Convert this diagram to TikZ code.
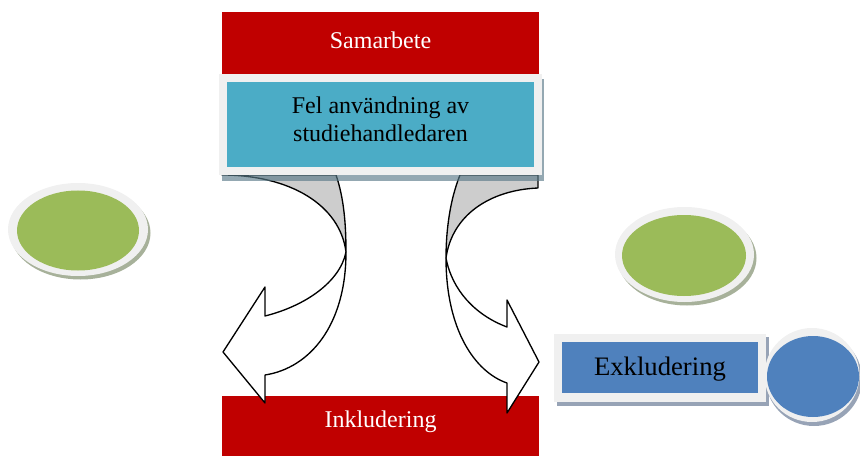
\documentclass[tikz,border=0pt]{standalone}
\usepackage{fontspec}
\setmainfont{Liberation Serif}
\definecolor{boxred}{HTML}{C00000}
\definecolor{boxteal}{HTML}{4BACC6}
\definecolor{boxblue}{HTML}{4F81BD}
\definecolor{ovalgreen}{HTML}{9BBB59}
\definecolor{rimgray}{HTML}{F0F0F0}
\definecolor{tealshade}{HTML}{5A7A88}
\definecolor{blueshade}{HTML}{97A3B6}
\definecolor{greenshade}{HTML}{A7B19A}
\definecolor{backgray}{HTML}{CDCDCD}
\begin{document}
\begin{tikzpicture}[x=0.75pt,y=-0.75pt,
  redtext/.style={text=white,font=\fontsize{18}{21}\selectfont},
  darktext/.style={text=black,font=\fontsize{18}{21}\selectfont,align=center},
  arrowline/.style={draw=black,line width=1pt,line join=round}]
\useasboundingbox (0,0) rectangle (860,456);

% bottom bar
\fill[boxred] (222,396) rectangle (539,456);
\node[redtext] (inkl) at (380.5,422) {Inkludering};

% left curved arrow: back face, then front body
\path[arrowline,fill=backgray]
  (222,175) .. controls (290,175) and (340,205) .. (346,252)
  .. controls (346,225) and (344,198) .. (336,175) -- cycle;
\path[arrowline,fill=white]
  (346,252) .. controls (346,325) and (310,368) .. (265,375)
  -- (265,403) -- (223,352) -- (265,287) -- (265,316)
  .. controls (305,306) and (340,282) .. (346,252) -- cycle;

% right curved arrow: back face, then front body
\path[arrowline,fill=backgray]
  (460,175) .. controls (450,200) and (446,230) .. (446,258)
  .. controls (452,215) and (490,190) .. (538,188) -- (538,175) -- cycle;
\path[arrowline,fill=white]
  (446,258) .. controls (446,330) and (475,372) .. (507,383)
  -- (507,413) -- (539,362) -- (507,300) -- (507,327)
  .. controls (475,315) and (452,290) .. (446,258) -- cycle;

% top bar
\fill[boxred] (222,12) rectangle (539,74);
\node[redtext] (samarb) at (380.5,40) {Samarbete};

% framed teal box with a see-through shadow
\fill[tealshade,fill opacity=0.65] (222,79) rectangle (544,181);
\fill[rimgray] (219,74) rectangle (542,175);
\fill[boxteal] (227,82) rectangle (534,167);
\node[darktext] (fel) at (380.5,119) {Fel användning av\\studiehandledaren};

% left green oval
\fill[greenshade] (80.5,233) ellipse [x radius=70,y radius=46.5];
\fill[rimgray] (78,229.5) ellipse [x radius=70,y radius=46.5];
\fill[ovalgreen] (78,230.5) ellipse [x radius=61,y radius=40];
\coordinate (ovalL) at (78,230.5);

% right green oval
\fill[greenshade] (687,258) ellipse [x radius=69.5,y radius=47.5];
\fill[rimgray] (684.5,254.5) ellipse [x radius=69.5,y radius=47.5];
\fill[ovalgreen] (684,255.5) ellipse [x radius=62,y radius=40.5];
\coordinate (ovalR) at (684,255.5);

% framed blue box
\fill[blueshade] (557,337) rectangle (769,406);
\fill[rimgray] (554,334) rectangle (766,402);
\fill[boxblue] (562,342) rectangle (758,393);
\node[text=black,font=\fontsize{20}{24}\selectfont] (exkl) at (660,369.5) {Exkludering};

% blue disc
\fill[blueshade] (814,379) ellipse [x radius=48,y radius=47];
\fill[rimgray] (812,375) ellipse [x radius=47.5,y radius=47];
\fill[boxblue] (813,376.5) ellipse [x radius=46,y radius=40.5];
\coordinate (disc) at (813,376.5);
\end{tikzpicture}
\end{document}
